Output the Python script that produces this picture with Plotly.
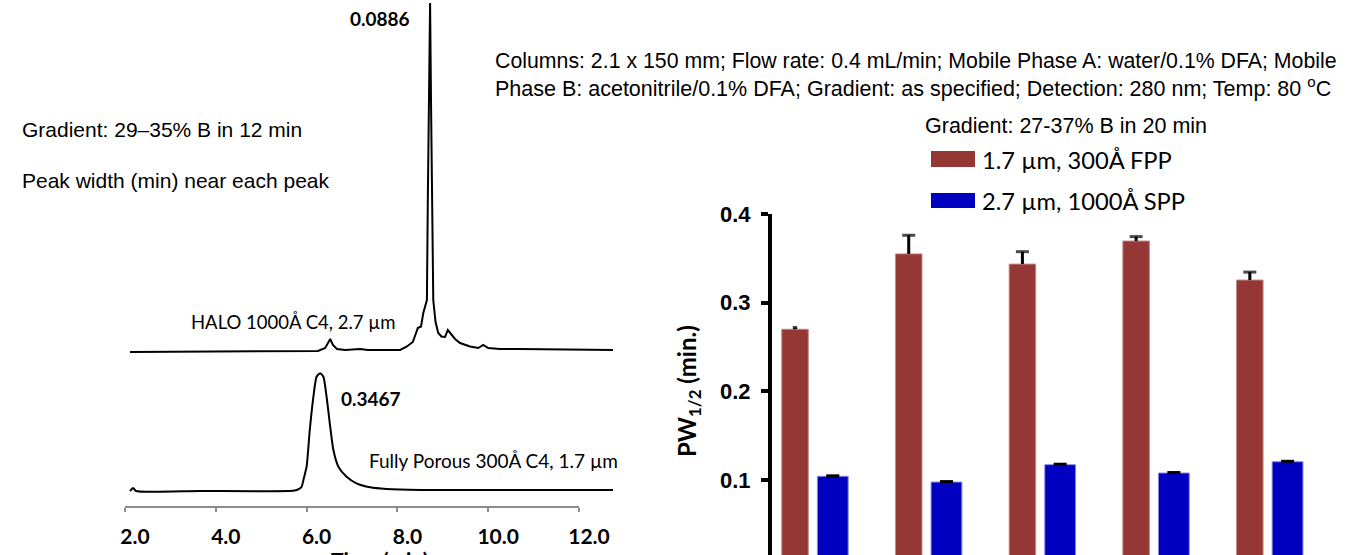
import plotly.graph_objects as go

W, H = 1345, 555

# ---------------- chromatograms (time in min, signal in arbitrary units) ----------------
halo_time = [2.11, 3.65, 5.41, 6.25, 6.41, 6.52, 6.58, 6.67, 6.85, 7.18, 7.35, 7.95,
             8.06, 8.20, 8.34, 8.45, 8.52, 8.57, 8.61, 8.65, 8.67, 8.70, 8.72, 8.74,
             8.76, 8.79, 8.84, 8.90, 8.97, 9.05, 9.11, 9.19, 9.27, 9.38, 9.60, 9.78,
             9.89, 10.00, 10.26, 10.70, 11.58, 12.75]
halo_signal = [0, 0.5, 1, 1, 4, 13, 7, 3, 2, 3, 2, 2,
               2, 5.3, 10, 24, 25.5, 39, 45, 52, 152, 252, 349, 252,
               152, 52, 30, 19, 15.5, 15, 22, 17, 13, 9, 5.5, 4,
               7, 4, 3, 3, 2.5, 2]

fpp_time = [2.11, 2.18, 2.24, 3.65, 5.70, 5.81, 5.89, 5.94, 6.00, 6.07, 6.15, 6.22,
            6.30, 6.37, 6.44, 6.52, 6.59, 6.70, 6.88, 7.10, 7.40, 7.76, 8.50, 9.22, 12.75]
fpp_signal = [0, 3, 0, 0, 0.3, 1.5, 4.3, 13, 24.3, 61, 94.3, 114.3,
              117.7, 114.3, 94.3, 64.3, 41, 24.3, 14.3, 7.7, 3.7, 2, 1, 1, 1]

time_ticks = [2, 4, 6, 8, 10, 12]
time_labels = ["2.0", "4.0", "6.0", "8.0", "10.0", "12.0"]

# ---------------- bar chart: half-height peak widths ----------------
samples = ["1", "2", "3", "4", "5"]
fpp_pw = [0.270, 0.355, 0.3435, 0.3695, 0.3255]
fpp_err = [0.002, 0.021, 0.014, 0.005, 0.009]
spp_pw = [0.1042, 0.0977, 0.1173, 0.1079, 0.1206]
spp_err = [0.0005, 0.0005, 0.0005, 0.0005, 0.0005]

pw_ticks = [0.1, 0.2, 0.3, 0.4]
pw_labels = ["0.1", "0.2", "0.3", "0.4"]

RED = "#953735"
BLUE = "#0000C0"

idx = list(range(len(samples)))
x_red = [i - 0.166 for i in idx]
x_blue = [i + 0.166 for i in idx]

def px(x):
    return x / W

def py(y):
    return 1 - y / H

fig = go.Figure()

fig.add_trace(go.Scatter(x=fpp_time, y=fpp_signal, xaxis="x", yaxis="y", mode="lines",
                         line=dict(color="black", width=2, shape="spline", smoothing=0.6),
                         hoverinfo="skip"))
fig.add_trace(go.Scatter(x=halo_time, y=halo_signal, xaxis="x", yaxis="y4", mode="lines",
                         line=dict(color="black", width=2), hoverinfo="skip"))
# carrier for the displayed time axis
fig.add_trace(go.Scatter(x=[], y=[], xaxis="x3", yaxis="y3", hoverinfo="skip"))

fig.add_trace(go.Bar(x=x_red, y=fpp_pw, width=0.233, xaxis="x2", yaxis="y2",
                     marker=dict(color=RED, line=dict(color="#c08584", width=1)),
                     error_y=dict(type="data", symmetric=False, array=fpp_err,
                                  arrayminus=[0] * len(fpp_err), width=0, thickness=3,
                                  color="black"),
                     name="1.7 µm, 300Å FPP"))
fig.add_trace(go.Bar(x=x_blue, y=spp_pw, width=0.271, xaxis="x2", yaxis="y2",
                     marker=dict(color=BLUE, line=dict(color="#8a8ae6", width=1)),
                     name="2.7 µm, 1000Å SPP"))
# error-bar caps
fig.add_trace(go.Scatter(x=x_red, y=[v + e for v, e in zip(fpp_pw, fpp_err)],
                         xaxis="x2", yaxis="y2", mode="markers", hoverinfo="skip",
                         marker=dict(symbol="line-ew", size=[3.2, 9.3, 9.3, 9.3, 9.3],
                                     line=dict(color="black", width=3))))
fig.add_trace(go.Scatter(x=x_blue, y=[v + e for v, e in zip(spp_pw, spp_err)],
                         xaxis="x2", yaxis="y2", mode="markers", hoverinfo="skip",
                         marker=dict(symbol="line-ew", size=9.3,
                                     line=dict(color="black", width=3))))

annotations = []

def ann(text, x, y, size, family="Lato", weight="normal", xanchor="center",
        yanchor="middle", angle=0):
    annotations.append(dict(text=text, x=px(x), y=py(y), xref="paper", yref="paper",
                            showarrow=False, xanchor=xanchor, yanchor=yanchor,
                            textangle=angle, borderpad=0,
                            font=dict(family=family, size=size, color="black",
                                      weight=weight)))

ann("0.0886", 379.5, 18, 19, weight="bold")
ann("0.3467", 371, 398, 19, weight="bold")
ann("HALO 1000Å C4, 2.7 µm", 293, 322, 18.5)
ann("Fully Porous 300Å C4, 1.7 µm", 493, 460, 19)
ann("Gradient: 29–35% B in 12 min", 21, 129, 21, family="Liberation Sans", xanchor="left")
ann("Peak width (min) near each peak", 21, 180, 21, family="Liberation Sans", xanchor="left")
ann("Columns: 2.1 x 150 mm; Flow rate: 0.4 mL/min; Mobile Phase A: water/0.1% DFA; Mobile",
    494, 61, 21.3, family="Liberation Sans", xanchor="left")
ann("Phase B: acetonitrile/0.1% DFA; Gradient: as specified; Detection: 280 nm; Temp: 80 <sup>o</sup>C",
    494, 87, 21.5, family="Liberation Sans", xanchor="left")
ann("Gradient: 27-37% B in 20 min", 924, 126, 21.5, family="Liberation Sans", xanchor="left")
ann("1.7 µm, 300Å FPP", 981, 160, 23.7, xanchor="left")
ann("2.7 µm, 1000Å SPP", 981, 201, 23.7, xanchor="left")
ann("PW<sub>1/2</sub> (min.)", 688, 391, 24, weight="bold", angle=-90)
ann("Time (min)", 380, 546, 21, weight="bold", yanchor="top")

shapes = [
    dict(type="rect", xref="paper", yref="paper", x0=px(931), x1=px(975),
         y0=py(167), y1=py(151), fillcolor=RED, line=dict(width=0)),
    dict(type="rect", xref="paper", yref="paper", x0=px(931), x1=px(975),
         y0=py(208), y1=py(193), fillcolor=BLUE, line=dict(width=0)),
]

fig.update_layout(
    width=W, height=H, margin=dict(l=0, r=0, t=0, b=0, pad=0, autoexpand=False),
    paper_bgcolor="white", plot_bgcolor="rgba(0,0,0,0)",
    showlegend=False, barmode="overlay",
    annotations=annotations, shapes=shapes,
    xaxis=dict(domain=[px(125), px(625)], range=[2, 2 + 500 / 45.4], visible=False,
               anchor="y", automargin=False),
    yaxis=dict(domain=[py(495), py(370)], range=[-4, 121], visible=False, anchor="x",
               automargin=False),
    yaxis4=dict(domain=[py(355), 1], range=[-3, 352], visible=False, anchor="x",
                automargin=False),
    xaxis3=dict(domain=[px(125), px(579)], range=[2, 12], anchor="y3",
                showline=True, linecolor="#8c8c8c", linewidth=1.5,
                ticks="outside", ticklen=4, tickwidth=1.5, tickcolor="#8c8c8c",
                tickvals=time_ticks, ticktext=time_labels, ticklabelshift=10,
                ticklabelstandoff=7, automargin=False,
                tickfont=dict(family="Lato", size=21, color="black", weight="bold"),
                showgrid=False, zeroline=False),
    yaxis3=dict(domain=[py(506), py(450)], range=[0, 1], visible=False, anchor="x3",
                automargin=False),
    xaxis2=dict(domain=[px(772), px(1340)], range=[-0.3685, 4.6271], anchor="y2",
                visible=False, automargin=False),
    yaxis2=dict(domain=[0, py(214)], range=[0.01542, 0.4], anchor="x2",
                showline=True, linecolor="black", linewidth=4,
                ticks="outside", ticklen=7, tickwidth=4, tickcolor="black",
                tickvals=pw_ticks, ticktext=pw_labels, ticklabelstandoff=6,
                automargin=False,
                tickfont=dict(family="Liberation Sans", size=22, color="black",
                              weight="bold"),
                showgrid=False, zeroline=False),
)

fig.write_html("out.html")
